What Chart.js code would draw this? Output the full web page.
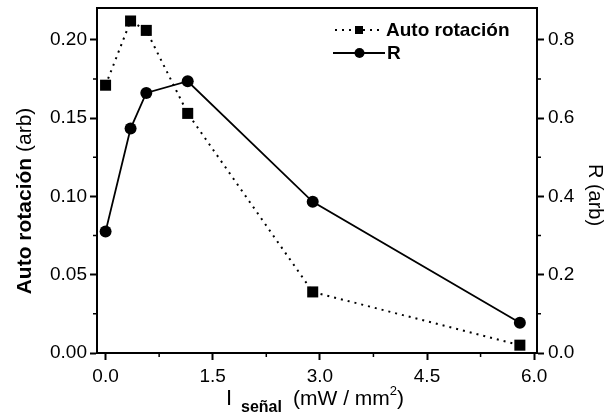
<!DOCTYPE html>
<html>
<head>
<meta charset="utf-8">
<script src="https://cdn.jsdelivr.net/npm/chart.js@4"></script>
<style>
  html, body { margin: 0; padding: 0; background: #fff; }
  #box { width: 608px; height: 415px; position: relative; }
</style>
</head>
<body>
<div id="box"><canvas id="grafica"></canvas></div>
<script>
// intensidad de la señal (mW / mm2)
const intensidad = [0.0, 0.35, 0.57, 1.15, 2.9, 5.8];
// auto rotación (arb) y R (arb)
const autoRotacion = [0.171, 0.212, 0.206, 0.153, 0.039, 0.005];
const valoresR = [0.31, 0.573, 0.664, 0.694, 0.386, 0.077];

// marcas de los ejes
const ticksX = [0, 1.5, 3.0, 4.5, 6.0];
const ticksIzq = [0, 0.05, 0.10, 0.15, 0.20];
const ticksDer = [0, 0.2, 0.4, 0.6, 0.8];
const menoresX = [0.75, 2.25, 3.75, 5.25];
const menoresIzq = [0.025, 0.075, 0.125, 0.175];
const menoresDer = [0.1, 0.3, 0.5, 0.7];

const fuente = '"Liberation Sans", Arial, sans-serif';
const negro = '#000';

function puntos(ys) {
    return intensidad.map((x, i) => ({ x: x, y: ys[i] }));
}

function ejeBase(ticks, decimales, padding, extra) {
    return Object.assign({
        afterBuildTicks: scale => { scale.ticks = ticks.map(v => ({ value: v })); },
        ticks: {
            color: negro,
            padding: padding,
            font: { family: fuente, size: 19 },
            callback: v => Number(v).toFixed(decimales)
        },
        grid: { drawOnChartArea: false, drawTicks: true, tickLength: 7, tickWidth: 2, tickColor: negro },
        border: { display: true, color: negro, width: 2 }
    }, extra);
}

// tamaño fijo de cada eje, sin el margen extra que reserva para las etiquetas
function tamanoFijo(prop, valor) {
    return scale => {
        scale[prop] = valor;
        scale.paddingTop = 0;
        scale.paddingBottom = 0;
        scale.paddingLeft = 0;
        scale.paddingRight = 0;
    };
}

// bordes de arriba, marcas menores, leyenda y títulos de los ejes
const extras = {
    id: 'extras',
    afterDraw(chart) {
        const ctx = chart.ctx;
        const a = chart.chartArea;
        const sx = chart.scales.x, sl = chart.scales.yL, sr = chart.scales.yR;
        ctx.save();
        ctx.strokeStyle = negro;
        ctx.fillStyle = negro;
        ctx.lineWidth = 2;

        ctx.beginPath();
        ctx.moveTo(a.left - 1, a.top);
        ctx.lineTo(a.right + 1, a.top);
        ctx.stroke();

        ctx.lineWidth = 1.5;
        ctx.beginPath();
        menoresX.forEach(v => {
            const px = sx.getPixelForValue(v);
            ctx.moveTo(px, a.bottom); ctx.lineTo(px, a.bottom + 4);
        });
        menoresIzq.forEach(v => {
            const py = sl.getPixelForValue(v);
            ctx.moveTo(a.left, py); ctx.lineTo(a.left - 4, py);
        });
        menoresDer.forEach(v => {
            const py = sr.getPixelForValue(v);
            ctx.moveTo(a.right, py); ctx.lineTo(a.right + 4, py);
        });
        ctx.stroke();

        // leyenda
        ctx.lineWidth = 2;
        ctx.setLineDash([2, 5]);
        ctx.beginPath();
        ctx.moveTo(335, 30); ctx.lineTo(383, 30);
        ctx.stroke();
        ctx.setLineDash([]);
        ctx.fillRect(355, 26, 8, 8);
        ctx.beginPath();
        ctx.moveTo(333, 53); ctx.lineTo(385, 53);
        ctx.stroke();
        ctx.beginPath();
        ctx.arc(359.5, 53, 5, 0, Math.PI * 2);
        ctx.fill();

        ctx.font = 'bold 19px ' + fuente;
        ctx.textBaseline = 'middle';
        ctx.textAlign = 'left';
        ctx.fillText('Auto rotación', 386, 31);
        ctx.fillText('R', 387, 54);

        // título eje izquierdo
        ctx.save();
        ctx.translate(31, 201);
        ctx.rotate(-Math.PI / 2);
        ctx.textBaseline = 'alphabetic';
        ctx.font = 'bold 21px ' + fuente;
        const t1 = 'Auto rotación';
        const w1 = ctx.measureText(t1).width;
        ctx.font = '21px ' + fuente;
        const t2 = ' (arb)';
        const w2 = ctx.measureText(t2).width;
        const inicio = -(w1 + w2) / 2;
        ctx.font = 'bold 21px ' + fuente;
        ctx.fillText(t1, inicio, 0);
        ctx.font = '21px ' + fuente;
        ctx.fillText(t2, inicio + w1, 0);
        ctx.restore();

        // título eje derecho
        ctx.save();
        ctx.translate(589, 195);
        ctx.rotate(Math.PI / 2);
        ctx.textBaseline = 'alphabetic';
        ctx.textAlign = 'center';
        ctx.font = '20px ' + fuente;
        ctx.fillText('R (arb)', 0, 0);
        ctx.restore();

        // título eje x
        ctx.textBaseline = 'alphabetic';
        ctx.textAlign = 'left';
        ctx.font = '22px ' + fuente;
        ctx.fillText('I', 226, 405);
        ctx.font = 'bold 16px ' + fuente;
        ctx.fillText('señal', 241, 412);
        ctx.font = '21px ' + fuente;
        const t3 = '(mW / mm';
        ctx.fillText(t3, 293, 405);
        let xx = 293 + ctx.measureText(t3).width;
        ctx.font = '13px ' + fuente;
        ctx.fillText('2', xx, 395);
        xx += ctx.measureText('2').width;
        ctx.font = '21px ' + fuente;
        ctx.fillText(')', xx, 405);

        ctx.restore();
    }
};

new Chart(document.getElementById('grafica'), {
    type: 'line',
    data: {
        datasets: [
            {
                label: 'Auto rotación',
                data: puntos(autoRotacion),
                yAxisID: 'yL',
                borderColor: negro,
                backgroundColor: negro,
                borderWidth: 2,
                borderDash: [2, 5],
                pointStyle: 'rect',
                pointRadius: 7.8,
                pointBorderWidth: 0,
                pointBackgroundColor: negro
            },
            {
                label: 'R',
                data: puntos(valoresR),
                yAxisID: 'yR',
                borderColor: negro,
                backgroundColor: negro,
                borderWidth: 1.8,
                pointStyle: 'circle',
                pointRadius: 6,
                pointBorderWidth: 0,
                pointBackgroundColor: negro
            }
        ]
    },
    options: {
        responsive: true,
        maintainAspectRatio: false,
        animation: false,
        layout: { padding: { top: 8, left: 0, right: 0, bottom: 0 } },
        plugins: { legend: { display: false }, tooltip: { enabled: false } },
        scales: {
            x: ejeBase(ticksX, 1, 5, {
                type: 'linear', position: 'bottom', min: -0.12, max: 6.04,
                afterFit: tamanoFijo('height', 62)
            }),
            yL: ejeBase(ticksIzq, 2, 3, {
                type: 'linear', position: 'left', min: 0, max: 0.2203,
                afterFit: tamanoFijo('width', 97)
            }),
            yR: ejeBase(ticksDer, 1, 4, {
                type: 'linear', position: 'right', min: 0, max: 0.881,
                afterFit: tamanoFijo('width', 71)
            })
        }
    },
    plugins: [extras]
});
</script>
</body>
</html>
